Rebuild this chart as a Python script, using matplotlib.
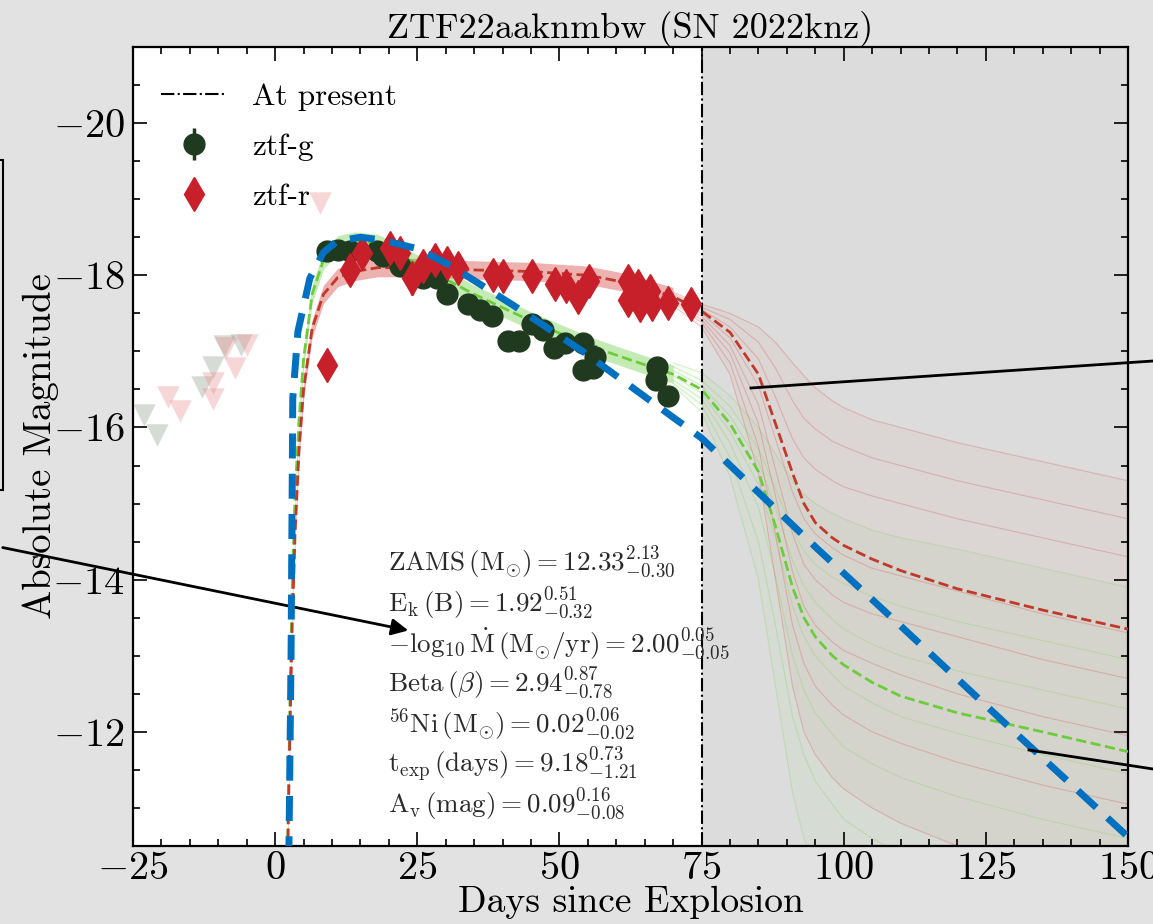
import numpy as np
import matplotlib
matplotlib.use('Agg')
import matplotlib.pyplot as plt
from matplotlib.patches import Rectangle
from matplotlib.ticker import MultipleLocator

plt.rcParams['font.family'] = 'serif'
plt.rcParams['font.serif'] = ['cmr10', 'DejaVu Serif']
plt.rcParams['mathtext.fontset'] = 'cm'
plt.rcParams['axes.formatter.use_mathtext'] = True

# --- observed photometry ---
g_days = [9.1, 11.1, 13.2, 17.9, 19.0, 22.0, 26.0, 28.5, 30.2, 34.0, 36.0, 38.1, 41.0, 42.9,
          45.2, 47.1, 49.0, 51.0, 54.1, 54.1, 56.3, 55.9, 67.2, 67.0, 69.1]
g_mag = [-18.32, -18.33, -18.32, -18.32, -18.25, -18.12, -17.96, -17.96, -17.75, -17.62, -17.54,
         -17.46, -17.14, -17.14, -17.36, -17.28, -17.05, -17.11, -17.11, -16.75, -16.93, -16.78,
         -16.80, -16.62, -16.42]
g_err = [0.05, 0.05, 0.05, 0.05, 0.05, 0.05, 0.05, 0.05, 0.12, 0.05, 0.05, 0.05, 0.05, 0.05,
         0.05, 0.05, 0.05, 0.05, 0.05, 0.1, 0.15, 0.1, 0.1, 0.1, 0.1]

r_days = [9.1, 13.2, 15.3, 20.2, 22.0, 24.1, 26.0, 28.1, 30.2, 32.2, 38.3, 40.1, 45.2, 49.2,
          51.2, 53.3, 55.2, 62.1, 62.1, 63.8, 64.2, 66.0, 66.3, 69.1, 73.1]
r_mag = [-16.82, -18.07, -18.29, -18.36, -18.29, -17.96, -18.12, -18.20, -18.16, -18.09, -18.00,
         -17.99, -17.99, -17.89, -17.86, -17.71, -17.92, -17.92, -17.67, -17.86, -17.61, -17.79,
         -17.62, -17.64, -17.62]
r_err = [0.15, 0.05, 0.05, 0.05, 0.05, 0.22, 0.05, 0.05, 0.05, 0.05, 0.05, 0.05, 0.05, 0.05,
         0.05, 0.05, 0.05, 0.05, 0.05, 0.05, 0.05, 0.05, 0.05, 0.05, 0.05]

# upper limits
g_lim_days = [-23.1, -20.8, -12.9, -10.9, -9.0, -6.0]
g_lim_mag = [-16.16, -15.90, -16.53, -16.80, -17.07, -17.08]
r_lim_days = [-18.8, -16.7, -10.9, -10.9, -7.1, -5.0, -8.6, 7.9]
r_lim_mag = [-16.40, -16.22, -16.58, -16.38, -16.78, -17.08, -17.04, -18.95]

# --- model light curves ---
d_early = [2.2, 2.6, 3.0, 3.5, 4.2, 5.0, 6.5, 8.5, 11, 14, 18, 25, 35, 45, 55, 62, 70]
r_med_early = [-10.4, -12.0, -13.4, -14.6, -15.7, -16.5, -17.3, -17.75, -17.97, -18.05, -18.1,
               -18.1, -18.07, -18.05, -18.0, -17.9, -17.72]
g_med_early = [-10.4, -12.4, -13.9, -15.1, -16.1, -16.9, -17.75, -18.2, -18.4, -18.45, -18.42,
               -18.15, -17.75, -17.4, -17.08, -16.9, -16.7]

d_late = [70, 75, 80, 85, 88, 91, 93, 95, 98, 100, 105, 110, 120, 135, 150]
r_med_late = [-17.72, -17.53, -17.25, -16.7, -16.05, -15.4, -15.0, -14.75, -14.55, -14.45, -14.27,
              -14.12, -13.88, -13.6, -13.35]
g_med_late = [-16.7, -16.5, -16.05, -15.42, -14.7, -13.9, -13.5, -13.25, -13.0, -12.88, -12.65,
              -12.47, -12.25, -12.0, -11.74]

r_samples = [
    [-17.78, -17.62, -17.5, -17.32, -17.12, -16.85, -16.68, -16.52, -16.35, -16.26, -16.1, -16.0, -15.8, -15.55, -15.3],
    [-17.76, -17.58, -17.42, -17.12, -16.78, -16.35, -16.12, -15.98, -15.82, -15.75, -15.6, -15.5, -15.3, -15.05, -14.8],
    [-17.74, -17.55, -17.32, -16.9, -16.4, -15.85, -15.6, -15.45, -15.3, -15.22, -15.1, -15.0, -14.8, -14.55, -14.3],
    [-17.7, -17.5, -17.18, -16.55, -15.85, -15.15, -14.8, -14.6, -14.42, -14.32, -14.15, -14.05, -13.85, -13.55, -13.3],
    [-17.68, -17.46, -17.08, -16.3, -15.45, -14.6, -14.2, -14.0, -13.8, -13.7, -13.55, -13.45, -13.25, -12.95, -12.7],
    [-17.66, -17.42, -16.98, -16.05, -15.1, -14.1, -13.65, -13.4, -13.18, -13.07, -12.9, -12.75, -12.5, -12.2, -11.95],
    [-17.64, -17.38, -16.85, -15.75, -14.6, -13.4, -12.9, -12.6, -12.35, -12.22, -12.0, -11.85, -11.6, -11.3, -11.05],
    [-17.6, -17.32, -16.7, -15.4, -14.0, -12.6, -12.0, -11.7, -11.4, -11.25, -11.0, -10.8, -10.5, -10.2, -9.9],
]
g_samples = [
    [-16.85, -16.72, -16.42, -16.0, -15.65, -15.3, -15.12, -15.0, -14.87, -14.8, -14.65, -14.55, -14.4, -14.15, -13.9],
    [-16.8, -16.62, -16.28, -15.72, -15.2, -14.65, -14.38, -14.2, -14.03, -13.95, -13.78, -13.65, -13.45, -13.2, -12.95],
    [-16.75, -16.55, -16.15, -15.55, -14.95, -14.25, -13.92, -13.7, -13.48, -13.35, -13.15, -13.0, -12.8, -12.55, -12.3],
    [-16.68, -16.45, -15.95, -15.25, -14.55, -13.65, -13.25, -13.0, -12.75, -12.6, -12.38, -12.2, -11.98, -11.7, -11.45],
    [-16.62, -16.38, -15.8, -14.95, -14.05, -13.0, -12.55, -12.25, -11.97, -11.8, -11.58, -11.4, -11.15, -10.85, -10.6],
    [-16.58, -16.3, -15.6, -14.5, -13.4, -12.2, -11.7, -11.35, -11.05, -10.85, -10.6, -10.4, -10.1, -9.8, -9.5],
    [-16.55, -16.2, -15.35, -14.0, -12.6, -11.2, -10.6, -10.2, -9.85, -9.6, -9.4, -9.2, -9.0, -8.8, -8.6],
]

# hand-drawn overlay curve
blue_days = [2.4, 2.8, 3.1, 4.0, 6.1, 8.5, 10.9, 15.0, 19.0, 25.0, 30.8, 42.0, 54.1, 75.0, 95.3,
             109.9, 130.0, 150.3]
blue_mag = [-10.3, -13.0, -16.38, -17.26, -17.96, -18.3, -18.45, -18.5, -18.46, -18.35, -18.13,
            -17.6, -17.0, -15.86, -14.41, -13.4, -12.0, -10.6]

params = [
    r'$\mathrm{ZAMS\,(M_{\odot})} = 12.33^{2.13}_{-0.30}$',
    r'$\mathrm{E_{k}\,(B)} = 1.92^{0.51}_{-0.32}$',
    r'$-\log_{10}\dot{\mathrm{M}}\,(\mathrm{M_{\odot}/yr}) = 2.00^{0.05}_{-0.05}$',
    r'$\mathrm{Beta}\,(\beta) = 2.94^{0.87}_{-0.78}$',
    r'$^{56}\mathrm{Ni}\,(\mathrm{M_{\odot}}) = 0.02^{0.06}_{-0.02}$',
    r'$\mathrm{t_{exp}\,(days)} = 9.18^{0.73}_{-1.21}$',
    r'$\mathrm{A_{v}\,(mag)} = 0.09^{0.16}_{-0.08}$',
]

W, H = 1153, 924
fig = plt.figure(figsize=(W / 100, H / 100), dpi=100, facecolor='#e2e2e2')
ax = fig.add_axes([133 / W, 1 - 846 / H, (1128 - 133) / W, (846 - 47) / H])
ax.set_facecolor('white')

ax.axvspan(75, 150, color='#dcdcdc', zorder=0, lw=0)

# model bundles
red_c, green_c = '#d9534f', '#7fd35a'
r_lo = np.min(r_samples, axis=0)
r_hi = np.max(r_samples, axis=0)
g_lo = np.min(g_samples, axis=0)
g_hi = np.max(g_samples, axis=0)
ax.fill_between(d_late, r_lo, r_hi, color=red_c, alpha=0.05, lw=0, zorder=1)
ax.fill_between(d_late, g_lo, g_hi, color=green_c, alpha=0.06, lw=0, zorder=1)
ax.fill_between(d_early, np.array(g_med_early) - 0.12, np.array(g_med_early) + 0.12,
                color=green_c, alpha=0.45, lw=0, zorder=2)
ax.fill_between(d_early, np.array(r_med_early) - 0.12, np.array(r_med_early) + 0.12,
                color=red_c, alpha=0.45, lw=0, zorder=2)
for s in g_samples:
    ax.plot(d_late, s, color=green_c, lw=0.8, alpha=0.3, zorder=2)
for s in r_samples:
    ax.plot(d_late, s, color=red_c, lw=0.8, alpha=0.3, zorder=2)
ax.plot(d_early + d_late[1:], g_med_early + g_med_late[1:], color='#6ccc3c', lw=2, ls='--', zorder=3)
ax.plot(d_early + d_late[1:], r_med_early + r_med_late[1:], color='#c0392b', lw=2, ls='--', zorder=3)

# upper limits
ax.scatter(g_lim_days, g_lim_mag, marker='v', s=260, color='#8a9a8a', alpha=0.35, lw=0, zorder=3)
ax.scatter(r_lim_days, r_lim_mag, marker='v', s=260, color='#e88a8a', alpha=0.35, lw=0, zorder=3)

ax.axvline(75, color='black', ls='-.', lw=1.5, label='At present', zorder=4)

ax.errorbar(g_days, g_mag, yerr=g_err, fmt='o', color='#1f3a1f', ms=15, elinewidth=2.5,
            label='ztf-g', zorder=5)
ax.errorbar(r_days, r_mag, yerr=r_err, fmt='d', color='#c8202a', ms=17, elinewidth=2.5,
            label='ztf-r', zorder=5)

ax.plot(blue_days, blue_mag, color='#0070c0', lw=5, dashes=(3.6, 2.2), zorder=6)

for i, p in enumerate(params):
    ax.text(0.256, 0.354 - i * 0.0505, p, transform=ax.transAxes, fontsize=19.5,
            va='center', ha='left', color='#2a2a2a', zorder=7)

ax.set_xlim(-25, 150)
ax.set_ylim(-10.5, -21)
ax.xaxis.set_major_locator(MultipleLocator(25))
ax.xaxis.set_minor_locator(MultipleLocator(5))
ax.yaxis.set_major_locator(MultipleLocator(2))
ax.yaxis.set_minor_locator(MultipleLocator(0.5))
ax.tick_params(which='both', direction='in', top=True, right=True, labelsize=29, width=1.2)
ax.tick_params(which='major', length=10, pad=6)
ax.tick_params(axis='x', which='major', pad=4)
ax.tick_params(which='minor', length=5)
for sp in ax.spines.values():
    sp.set_linewidth(1.6)

ax.set_title('ZTF22aaknmbw (SN 2022knz)', fontsize=26, pad=5)
ax.set_xlabel('Days since Explosion', fontsize=27, labelpad=-1)
ax.set_ylabel('Absolute Magnitude', fontsize=28, labelpad=-5)

ax.legend(loc='upper left', bbox_to_anchor=(0.0, 0.99), frameon=False, fontsize=22.5,
          handlelength=2.1, labelspacing=0.7)

# slide annotations drawn over the chart
fig.patches.append(Rectangle((-20 / W, 1 - 490 / H), 23 / W, 330 / H, transform=fig.transFigure,
                             fill=False, ec='black', lw=1.5))
fig.add_artist(plt.Line2D([751 / W, 1 / 1], [1 - 388 / H, 1 - 361 / H], transform=fig.transFigure,
                          color='black', lw=2))
fig.add_artist(plt.Line2D([1029 / W, 1 / 1], [1 - 750 / H, 1 - 769 / H], transform=fig.transFigure,
                          color='black', lw=2))
ax.annotate('', xy=(411 / W, 1 - 631 / H), xycoords='figure fraction',
            xytext=(0, 1 - 547 / H), textcoords='figure fraction',
            arrowprops=dict(arrowstyle='-|>', color='black', lw=2, mutation_scale=25),
            annotation_clip=False)

fig.savefig('out.png', dpi=100, facecolor=fig.get_facecolor())
